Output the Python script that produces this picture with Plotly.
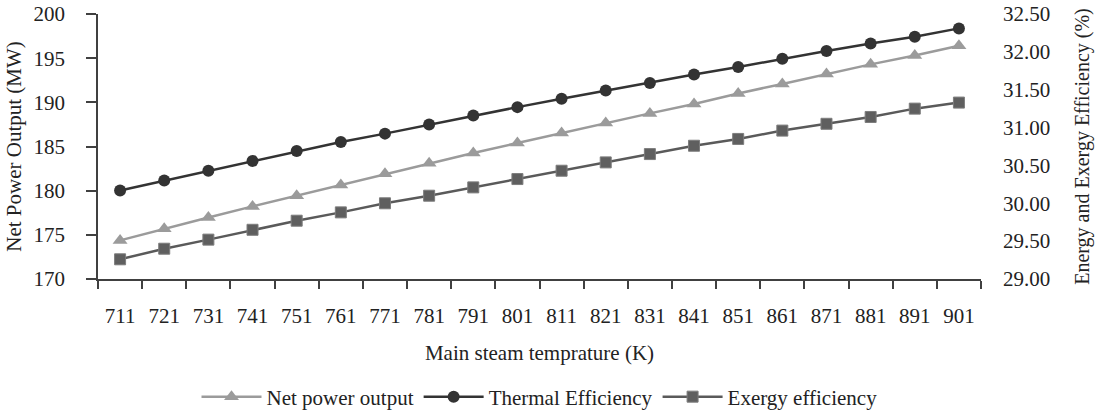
import plotly.graph_objects as go

temps = ["711", "721", "731", "741", "751", "761", "771", "781", "791", "801",
         "811", "821", "831", "841", "851", "861", "871", "881", "891", "901"]

net_power = [174.37, 175.69, 176.97, 178.22, 179.43, 180.64, 181.92, 183.09, 184.26, 185.40,
             186.53, 187.66, 188.75, 189.81, 191.01, 192.08, 193.21, 194.30, 195.31, 196.41]

thermal_eff = [30.17, 30.30, 30.43, 30.56, 30.69, 30.81, 30.92, 31.04, 31.16, 31.27,
               31.38, 31.49, 31.59, 31.70, 31.80, 31.91, 32.01, 32.11, 32.20, 32.31]

exergy_eff = [29.26, 29.40, 29.52, 29.65, 29.77, 29.88, 30.00, 30.10, 30.21, 30.32,
              30.43, 30.54, 30.65, 30.76, 30.85, 30.96, 31.05, 31.14, 31.25, 31.33]

left_ticks = [170, 175, 180, 185, 190, 195, 200]
right_ticks = [29.0, 29.5, 30.0, 30.5, 31.0, 31.5, 32.0, 32.5]

FONT = "Liberation Serif, Times New Roman, serif"
AXIS_COLOR = "#404040"
FS = 21
W, H = 1096, 412

fig = go.Figure()

fig.add_trace(go.Scatter(
    x=temps, y=net_power, name="Net power output", mode="lines+markers",
    line=dict(color="#9b9b9b", width=2.5),
    marker=dict(symbol="triangle-up", size=13, color="#9b9b9b"),
    yaxis="y",
))
fig.add_trace(go.Scatter(
    x=temps, y=thermal_eff, name="Thermal Efficiency", mode="lines+markers",
    line=dict(color="#333333", width=2.5),
    marker=dict(symbol="circle", size=12, color="#333333"),
    yaxis="y2",
))
fig.add_trace(go.Scatter(
    x=temps, y=exergy_eff, name="Exergy efficiency", mode="lines+markers",
    line=dict(color="#5a5a5a", width=2.5),
    marker=dict(symbol="square", size=11, color="#5f5f5f",
                line=dict(color="#7d7d7d", width=1)),
    yaxis="y2",
))

fig.update_layout(
    width=W, height=H,
    margin=dict(l=98, r=115, t=14, b=133, autoexpand=False),
    paper_bgcolor="white", plot_bgcolor="white",
    font=dict(family=FONT, size=FS, color="#222222"),
    showlegend=True,
    legend=dict(orientation="h", x=0.5, xanchor="center",
                yref="container", y=15 / H, yanchor="middle",
                font=dict(family=FONT, size=FS, color="#222222"),
                itemwidth=60, tracegroupgap=0),
    xaxis=dict(
        type="category", range=[-0.5, 19.5], automargin=False,
        showline=True, linecolor=AXIS_COLOR, linewidth=1.5,
        ticks="outside", tickson="boundaries", ticklen=8, tickwidth=1.5, tickcolor=AXIS_COLOR,
        showgrid=False, zeroline=False,
        ticklabelstandoff=17, ticklabeloverflow="allow",
        tickfont=dict(family=FONT, size=FS),
        title=dict(text="Main steam temprature (K)", font=dict(family=FONT, size=FS), standoff=18),
    ),
    yaxis=dict(
        range=[170, 200], tickvals=left_ticks, automargin=False,
        showline=True, linecolor=AXIS_COLOR, linewidth=1.5,
        ticks="outside", ticklen=10, tickwidth=1.5, tickcolor=AXIS_COLOR,
        showgrid=False, zeroline=False,
        ticklabelstandoff=17, ticklabeloverflow="allow",
        tickfont=dict(family=FONT, size=FS),
        title=dict(text="Net Power Output (MW)", font=dict(family=FONT, size=FS), standoff=6),
    ),
    yaxis2=dict(
        range=[29.0, 32.5], tickvals=right_ticks, tickformat=".2f",
        overlaying="y", side="right", automargin=False,
        showline=False, ticks="", showgrid=False, zeroline=False,
        ticklabelstandoff=21, ticklabeloverflow="allow",
        tickfont=dict(family=FONT, size=FS),
        title=dict(text="Energy and Exergy Efficiency (%)", font=dict(family=FONT, size=20), standoff=25),
    ),
)

fig.write_html("out.html", config={"displayModeBar": False},
               post_script="document.body.style.margin='0';")
